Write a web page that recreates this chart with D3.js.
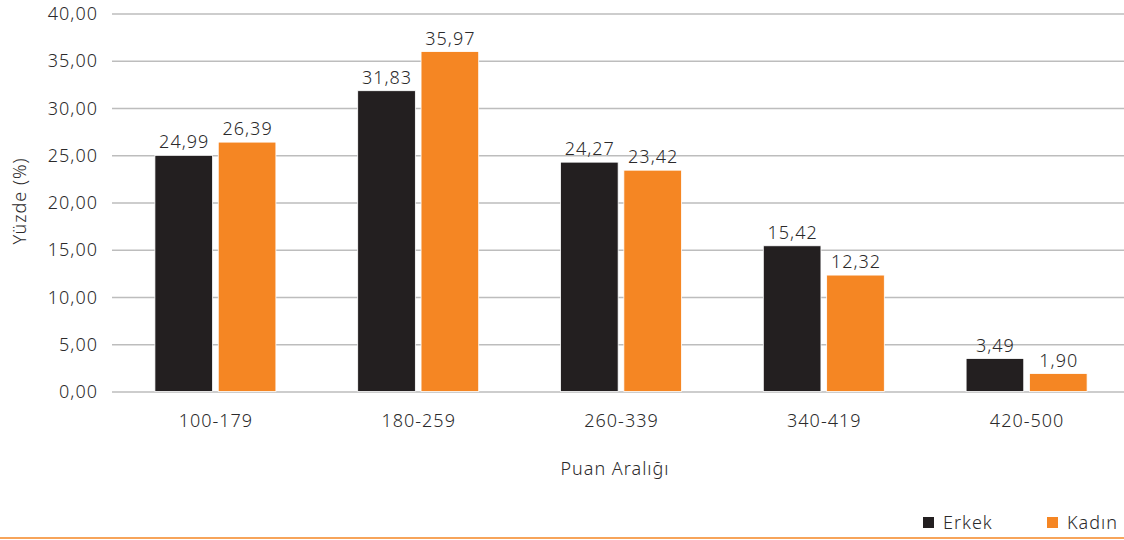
<!DOCTYPE html>
<html>
<head>
<meta charset="utf-8">
<script src="https://cdn.jsdelivr.net/npm/d3@7"></script>
<style>
  body { margin: 0; background: #fff; }
  svg text { font-family: "Noto Sans", "Open Sans", sans-serif; fill: #2B2A2B; font-weight: 300; letter-spacing: 1px; }
</style>
</head>
<body>
<svg id="chart" width="1124" height="540"></svg>
<script>
"use strict";

const categories = ["100-179", "180-259", "260-339", "340-419", "420-500"];
const seriesNames = ["Erkek", "Kadın"];
const erkek = [24.99, 31.83, 24.27, 15.42, 3.49];
const kadin = [26.39, 35.97, 23.42, 12.32, 1.90];
const yTicks = [0, 5, 10, 15, 20, 25, 30, 35, 40];
const colors = ["#231F20", "#F58623"];

const fmt = (v) => v.toFixed(2).replace(".", ",");
const fs = "18px";

const svg = d3.select("#chart");

const x = d3.scaleBand()
    .domain(categories)
    .range([114, 1128]);

const x1 = d3.scaleBand()
    .domain(seriesNames)
    .range([0, 121])
    .paddingInner(0.09);

const y = d3.scaleLinear()
    .domain([0, 40])
    .range([391.5, 13.5]);

// grid
const grid = svg.append("g")
    .attr("transform", "translate(112,0)")
    .call(d3.axisRight(y).tickValues(yTicks).tickFormat("").tickSize(1012));
grid.select("path").remove();
grid.selectAll("line").attr("stroke", "#BDBDBD").attr("stroke-width", 1.3);

// y tick labels
svg.append("g").selectAll("text")
    .data(yTicks)
    .enter()
    .append("text")
    .attr("x", 98)
    .attr("y", (d) => y(d) + 6.5)
    .attr("text-anchor", "end")
    .style("font-size", fs)
    .text((d) => fmt(d));

// bars
const rows = categories.map((c, i) => ({cat: c, vals: [erkek[i], kadin[i]]}));
const groups = svg.append("g").selectAll("g")
    .data(rows)
    .enter()
    .append("g")
    .attr("transform", (d) => "translate(" + (x(d.cat) + (x.bandwidth() - 121) / 2) + ",0)");

groups.selectAll("rect")
    .data((d) => d.vals.map((v, j) => ({name: seriesNames[j], v: v, j: j})))
    .enter()
    .append("rect")
    .attr("x", (d) => x1(d.name))
    .attr("width", x1.bandwidth())
    .attr("y", (d) => y(d.v))
    .attr("height", (d) => y(0) - y(d.v))
    .attr("fill", (d) => colors[d.j])
    .attr("stroke", "#fff")
    .attr("stroke-width", 0.8);

groups.selectAll("text")
    .data((d) => d.vals.map((v, j) => ({name: seriesNames[j], v: v})))
    .enter()
    .append("text")
    .attr("x", (d) => x1(d.name) + x1.bandwidth() / 2 + 0.5)
    .attr("y", (d) => y(d.v) - 7)
    .attr("text-anchor", "middle")
    .style("font-size", fs)
    .text((d) => fmt(d.v));

// x tick labels
svg.append("g").selectAll("text")
    .data(categories)
    .enter()
    .append("text")
    .attr("x", (d) => x(d) + x.bandwidth() / 2 + 0.5)
    .attr("y", 427)
    .attr("text-anchor", "middle")
    .style("font-size", fs)
    .text((d) => d);

// axis titles
svg.append("text")
    .attr("x", 615)
    .attr("y", 475)
    .attr("text-anchor", "middle")
    .style("font-size", fs)
    .text("Puan Aralığı");

svg.append("text")
    .attr("transform", "translate(26,201) rotate(-90)")
    .attr("text-anchor", "middle")
    .style("font-size", fs)
    .text("Yüzde (%)");

// legend
const legendX = [923, 1047];
const legend = svg.append("g").selectAll("g")
    .data(seriesNames)
    .enter()
    .append("g")
    .attr("transform", (d, i) => "translate(" + legendX[i] + ",517)");
legend.append("rect")
    .attr("width", 11)
    .attr("height", 11)
    .attr("fill", (d, i) => colors[i]);
legend.append("text")
    .attr("x", 20)
    .attr("y", 12)
    .style("font-size", fs)
    .text((d) => d);

// bottom rule
svg.append("line")
    .attr("x1", 0).attr("x2", 1124)
    .attr("y1", 538).attr("y2", 538)
    .attr("stroke", "#F58623")
    .attr("stroke-width", 1.5);
</script>
</body>
</html>
